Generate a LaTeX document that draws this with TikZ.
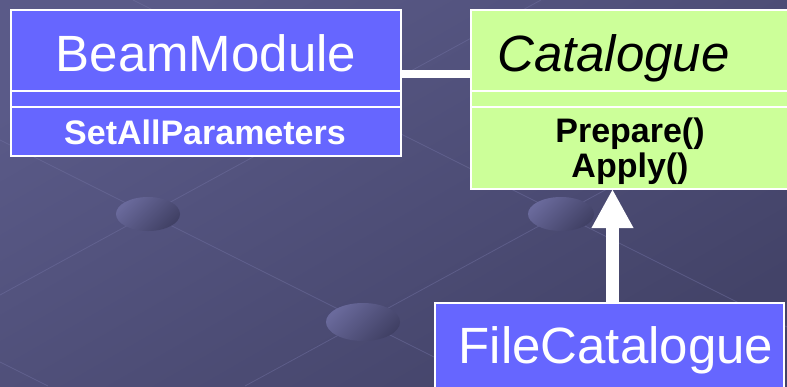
\documentclass[tikz,border=0pt]{standalone}
\usepackage{fontspec}
\setmainfont{Liberation Sans}
\usetikzlibrary{arrows.meta}
\definecolor{bgA}{HTML}{5A5A88}
\definecolor{bgB}{HTML}{434368}
\definecolor{umlblue}{HTML}{6666FF}
\definecolor{umlgreen}{HTML}{CCFF99}
\definecolor{lattice}{HTML}{7070A0}
\definecolor{blobA}{HTML}{6A6A9C}
\definecolor{blobB}{HTML}{404064}
\begin{document}
\begin{tikzpicture}[x=1pt,y=-1pt,
  classbox/.style={draw=white, line width=1.2pt, anchor=north west, inner sep=0pt, outer sep=0pt},
  sepline/.style={draw=white, line width=1.2pt},
  bigname/.style={font=\fontsize{51}{60}\selectfont, inner sep=0pt, anchor=base},
  opname/.style={font=\bfseries\fontsize{34}{36}\selectfont, inner sep=0pt, anchor=base},
  latline/.style={draw=lattice, line width=0.8pt, opacity=0.5},
  blob/.style={top color=blobA, bottom color=blobB, shading angle=45}
]
\useasboundingbox (0,0) rectangle (787,386);
\clip (0,0) rectangle (787,386);
% background
\shade[top color=bgA, bottom color=bgB, shading angle=30] (0,0) rectangle (787,386);
% lattice lines
\draw[latline] (0,140) -- (492,386);
\draw[latline] (245,386) -- (787,91);
\draw[latline] (0,295) -- (541,0);
\draw[latline] (133,0) -- (787,327);
\draw[latline] (0,362) -- (48,386);
% blobs
\shade[blob] (148,214) ellipse [x radius=32, y radius=17];
\shade[blob] (363,322) ellipse [x radius=37, y radius=19];
\shade[blob] (561,214) ellipse [x radius=33, y radius=17];
% classes
\node[classbox, fill=umlblue, minimum width=390, minimum height=146] (bm) at (11,10) {};
\node[classbox, fill=umlgreen, minimum width=318, minimum height=179] (cat) at (471,10) {};
\node[classbox, fill=umlblue, minimum width=349, minimum height=100] (fc) at (435,303) {};
% compartments
\draw[sepline] (bm.west |- 0,91) -- (bm.east |- 0,91);
\draw[sepline] (bm.west |- 0,107) -- (bm.east |- 0,107);
\draw[sepline] (cat.west |- 0,91) -- (cat.east |- 0,91);
\draw[sepline] (cat.west |- 0,107) -- (cat.east |- 0,107);
% texts
\node[bigname, text=white] (bmname) at (206,71) {BeamModule};
\node[bigname, anchor=base west, font=\itshape\fontsize{51}{60}\selectfont] (catname) at (497,71) {Catalogue};
\node[bigname, text=white] (fcname) at (616,363) {FileCatalogue};
\node[opname, text=white] (setall) at (205,144) {SetAllParameters};
\node[opname] (prep) at (630,142) {Prepare()};
\node[opname] (apply) at (630,177) {Apply()};
% connectors
\draw[white, line width=8pt] (bm.east |- 0,74) -- (cat.west |- 0,74);
\draw[white, line width=13pt, -{Triangle[width=39pt,length=39pt]}] (fc.north -| 612.5,0) -- (cat.south -| 612.5,0);
\end{tikzpicture}
\end{document}
